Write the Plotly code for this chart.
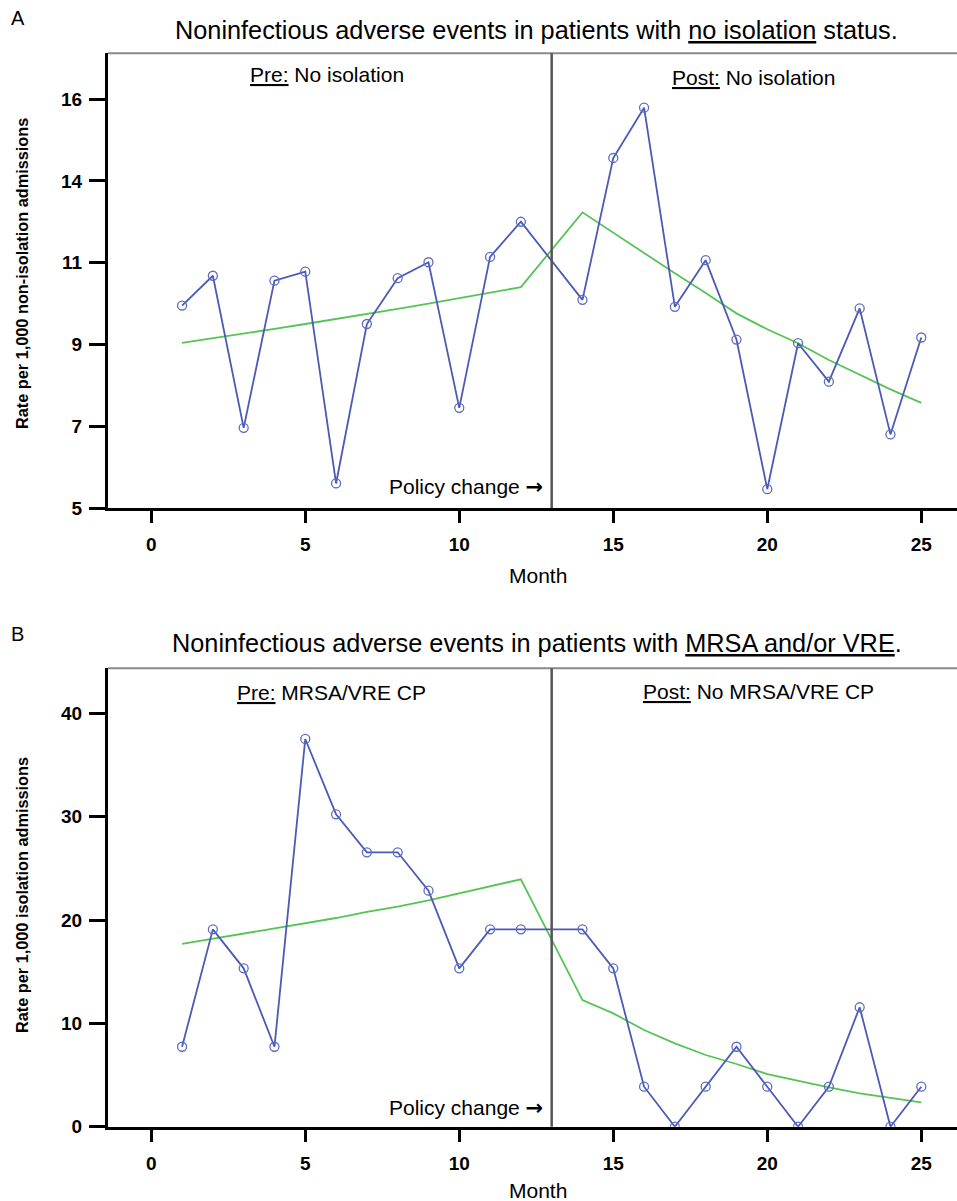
import plotly.graph_objects as go

# ---------------- data ----------------
months_pre = list(range(1, 13))
months_post = list(range(14, 26))
months_all = months_pre + months_post

# Panel A (axis units; ticks at 5,7,9,11,13,15 labelled 5,7,9,11,14,16)
a_rate = [9.95, 10.68, 6.96, 10.56, 10.78, 5.60, 9.50, 10.62, 11.01, 7.45, 11.14, 12.00,
          10.09, 13.56, 14.79, 9.92, 11.06, 9.12, 5.46, 9.03, 8.09, 9.88, 6.80, 9.17]
a_fit = [9.04, 9.15, 9.27, 9.38, 9.50, 9.62, 9.75, 9.87, 10.00, 10.13, 10.26, 10.40,
         12.23, 11.73, 11.25, 10.74, 10.26, 9.76, 9.37, 9.03, 8.62, 8.25, 7.90, 7.57]
a_tickvals = [5, 7, 9, 11, 13, 15]
a_ticktext = ["5", "7", "9", "11", "14", "16"]

# Panel B
b_rate = [7.74, 19.1, 15.33, 7.74, 37.53, 30.24, 26.56, 26.56, 22.85, 15.33, 19.1, 19.1,
          19.1, 15.33, 3.87, 0, 3.87, 7.74, 3.87, 0, 3.87, 11.56, 0, 3.87]
b_fit = [17.69, 18.2, 18.7, 19.2, 19.7, 20.2, 20.8, 21.3, 21.9, 22.6, 23.25, 23.95,
         12.26, 10.97, 9.36, 8.07, 6.94, 6.07, 5.10, 4.45, 3.81, 3.23, 2.81, 2.36]
b_tickvals = [0, 10, 20, 30, 40]

x_tickvals = [0, 5, 10, 15, 20, 25]
policy_month = 13

# ---------------- style ----------------
W, H = 957, 1201
FONT = "Liberation Sans, Arial, sans-serif"
BLUE = "#4a5ab5"
BLUE_MK = "#5b6cc4"
GREEN = "#55c455"


def px(x):
    return x / W


def py(y):
    return 1 - y / H


fig = go.Figure()

for xa, ya, rate, fit in [("x", "y", a_rate, a_fit), ("x2", "y2", b_rate, b_fit)]:
    fig.add_trace(go.Scatter(x=months_all, y=fit, mode="lines", xaxis=xa, yaxis=ya,
                             line=dict(color=GREEN, width=1.8), showlegend=False))
    fig.add_trace(go.Scatter(x=months_all, y=rate, mode="lines+markers", xaxis=xa, yaxis=ya,
                             line=dict(color=BLUE, width=1.8),
                             marker=dict(symbol="circle-open", size=9, color=BLUE_MK,
                                         line=dict(width=1.3, color=BLUE_MK)),
                             showlegend=False))

x_dom = [108 / W, 1.0]
x_range = [-1.405, 26.16]
ax_common = dict(showline=True, linewidth=3, linecolor="black", ticks="outside",
                 tickwidth=2.5, tickcolor="black", showgrid=False, zeroline=False,
                 automargin=False,
                 tickfont=dict(family=FONT, size=19, color="black", weight="bold"))

fig.update_layout(
    width=W, height=H,
    margin=dict(l=0, r=0, t=0, b=0, autoexpand=False),
    paper_bgcolor="white", plot_bgcolor="white",
    xaxis=dict(domain=x_dom, range=x_range, anchor="y", tickvals=x_tickvals,
               ticklen=12, ticklabelstandoff=5, **ax_common),
    yaxis=dict(domain=[py(508), py(53.3)], range=[5, 16.12], anchor="x",
               tickvals=a_tickvals, ticktext=a_ticktext, ticklen=16,
               ticklabelstandoff=3, **ax_common),
    xaxis2=dict(domain=x_dom, range=x_range, anchor="y2", tickvals=x_tickvals,
                ticklen=12, ticklabelstandoff=5, **ax_common),
    yaxis2=dict(domain=[py(1126.7), py(668.3)], range=[0, 44.37], anchor="x2",
                tickvals=b_tickvals, ticklen=16, ticklabelstandoff=3, **ax_common),
)

shapes = []
for xr, yr in [("x", "y"), ("x2", "y2")]:
    shapes.append(dict(type="line", xref=f"{xr} domain", yref=f"{yr} domain",
                       x0=0, x1=1, y0=1, y1=1, line=dict(color="#8a8a8a", width=2)))
    shapes.append(dict(type="line", xref=xr, yref=f"{yr} domain",
                       x0=policy_month, x1=policy_month, y0=0, y1=1,
                       line=dict(color="#555555", width=2.5)))
fig.update_layout(shapes=shapes)


def ann(text, x, y, size, xanchor="center", angle=0, weight="normal"):
    return dict(text=text, x=px(x), y=py(y), xref="paper", yref="paper",
                xanchor=xanchor, yanchor="middle", showarrow=False, textangle=angle,
                font=dict(family=FONT, size=size, color="black", weight=weight))


ARROW = "<span style='font-family:DejaVu Sans;font-weight:bold'>\u2192</span>"

annotations = [
    ann("A", 9, 18, 20, "left"),
    ann("Noninfectious adverse events in patients with <u>no isolation</u> status.", 536, 30, 25.3),
    ann("<u>Pre:</u> No isolation", 327, 75, 21),
    ann("<u>Post:</u> No isolation", 753, 77, 21),
    ann("Policy change " + ARROW, 545, 487, 21, "right"),
    ann("Month", 538, 575, 21),
    ann("Rate per 1,000 non-isolation admissions", 22, 274, 16.3, angle=-90, weight="bold"),
    ann("B", 9, 634, 20, "left"),
    ann("Noninfectious adverse events in patients with <u>MRSA and/or VRE</u>.", 537, 643, 25.3),
    ann("<u>Pre:</u> MRSA/VRE CP", 331, 692, 21),
    ann("<u>Post:</u> No MRSA/VRE CP", 758, 691, 21),
    ann("Policy change " + ARROW, 545, 1107.7, 21, "right"),
    ann("Month", 538, 1190, 21),
    ann("Rate per 1,000 isolation admissions", 22, 895, 16.3, angle=-90, weight="bold"),
]
fig.update_layout(annotations=annotations)

fig.write_html("out.html", config={"displayModeBar": False},
               post_script="document.body.style.margin='0';document.body.style.overflow='hidden';")
